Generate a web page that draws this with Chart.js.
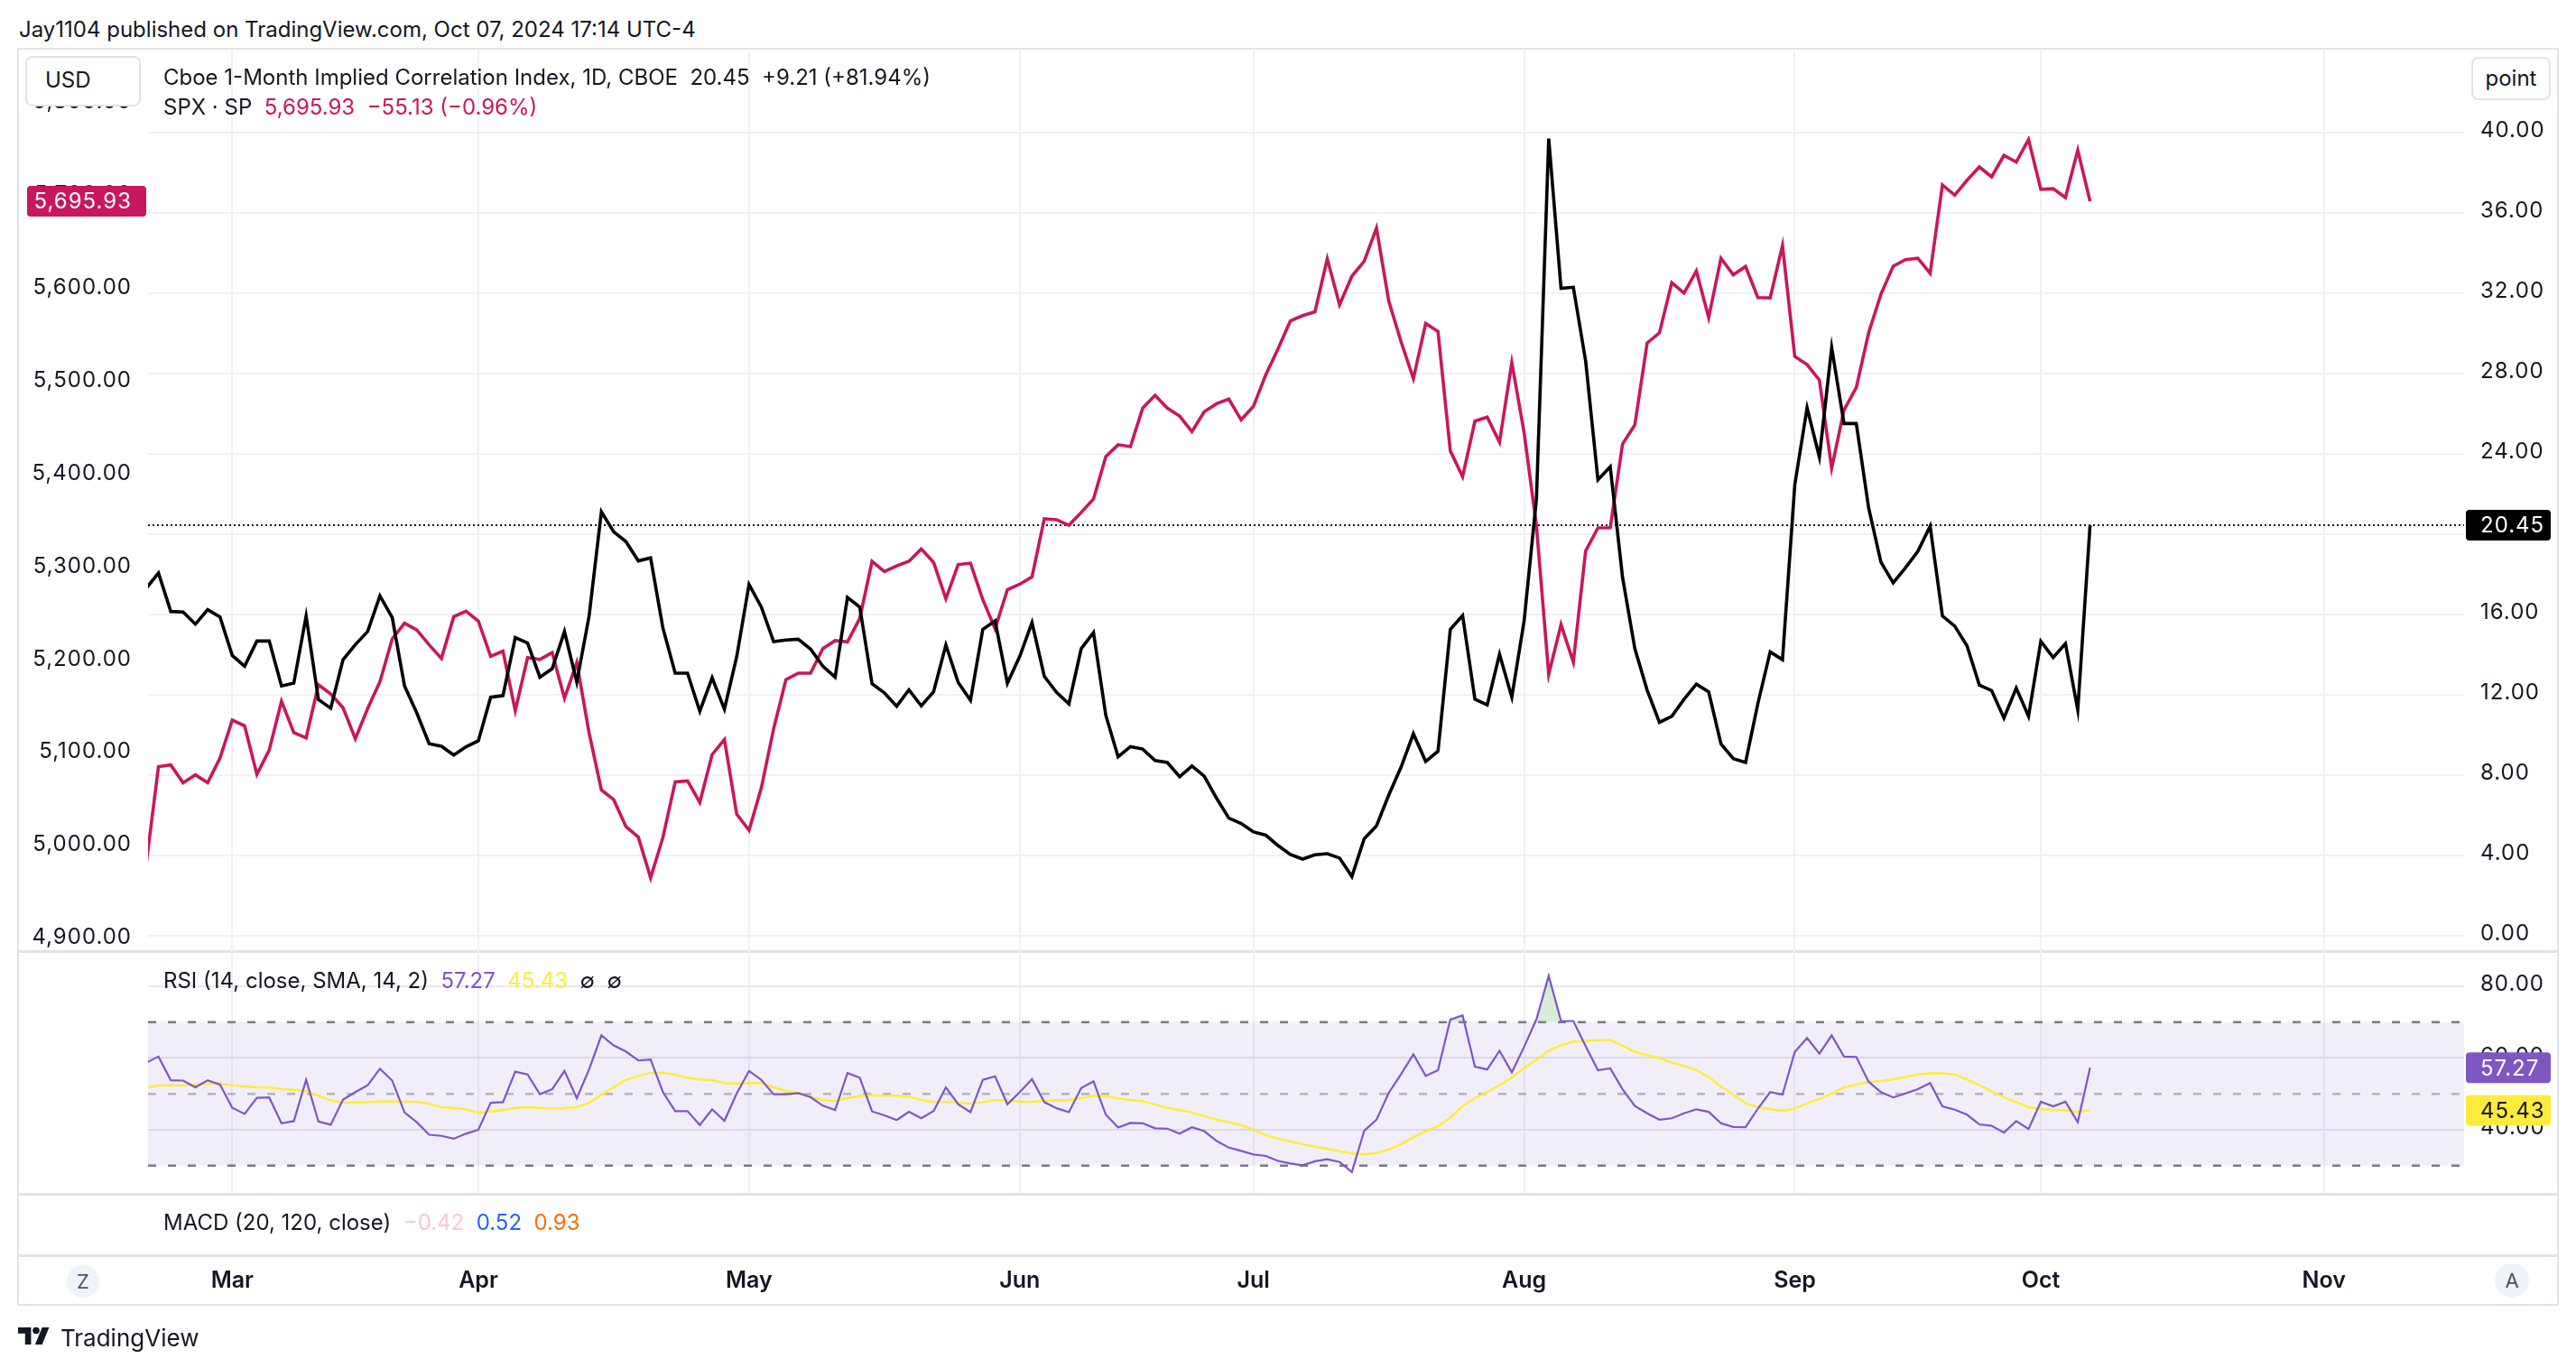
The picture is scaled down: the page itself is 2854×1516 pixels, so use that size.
<!DOCTYPE html>
<html>
<head>
<meta charset="utf-8">
<script src="https://cdn.jsdelivr.net/npm/chart.js"></script>
<style>
  body { margin: 0; width: 2854px; height: 1516px; background: #fff; position: relative; overflow: hidden;
         font-family: Inter, "Noto Sans", sans-serif; color: #131722; }
  .abs { position: absolute; white-space: nowrap; }
  canvas { position: absolute; z-index: 1; }
  .ov { z-index: 2; }
  .line { position: absolute; background: #e0e3eb; z-index: 0; }
  .txt { font-size: 24px; line-height: 30px; }
  .btn { border-radius: 50%; background: #f0f3fa; color: #50535e; text-align: center; font-size: 22px; }
</style>
</head>
<body>
<div class="abs txt" style="left:21px; top:18px;">Jay1104 published on TradingView.com, Oct 07, 2024 17:14 UTC-4</div>

<!-- frame -->
<div class="line" style="left:20px; top:53px; width:2814px; height:2px;"></div>
<div class="line" style="left:20px; top:1445px; width:2814px; height:2px;"></div>
<div class="line" style="left:19px; top:53px; width:2px; height:1394px;"></div>
<div class="line" style="left:2833px; top:53px; width:2px; height:1394px;"></div>
<div class="line" style="left:20px; top:1053px; width:2814px; height:3px;"></div>
<div class="line" style="left:20px; top:1322px; width:2814px; height:3px;"></div>
<div class="line" style="left:20px; top:1390px; width:2814px; height:3px;"></div>

<canvas id="main" width="2814" height="1001" style="left:20px; top:54px;"></canvas>
<canvas id="rsi" width="2814" height="269" style="left:20px; top:1054px;"></canvas>
<canvas id="time" width="2814" height="123" style="left:20px; top:1323px;"></canvas>

<div class="abs ov txt" style="left:28px; top:62px; width:124px; height:52px; border:2px solid #e0e3eb; border-radius:8px; background:#fff; line-height:50px;">
  <span style="margin-left:20px;">USD</span></div>
<div class="abs ov txt" style="left:2738px; top:63px; width:84px; height:44px; border:2px solid #e0e3eb; border-radius:8px; background:#fff; line-height:44px; text-align:center;">point</div>

<div class="abs ov txt" style="left:181px; top:71px;">Cboe 1-Month Implied Correlation Index, 1D, CBOE&nbsp; 20.45&nbsp; +9.21 (+81.94%)</div>
<div class="abs ov txt" style="left:181px; top:104px;">SPX · SP&nbsp; <span style="color:#c8175d;">5,695.93&nbsp; −55.13 (−0.96%)</span></div>

<div class="abs ov txt" style="left:181px; top:1072px;">RSI (14, close, SMA, 14, 2)&nbsp; <span style="color:#7e57c2;">57.27</span>&nbsp; <span style="color:#ffeb3b;">45.43</span>&nbsp; ∅&nbsp; ∅</div>
<div class="abs ov txt" style="left:181px; top:1340px;">MACD (20, 120, close)&nbsp; <span style="color:#f8c8d6;">−0.42</span>&nbsp; <span style="color:#2962ff;">0.52</span>&nbsp; <span style="color:#ff6d00;">0.93</span></div>

<div class="abs ov btn" style="left:74px; top:1402px; width:36px; height:36px; line-height:36px;">Z</div>
<div class="abs ov btn" style="left:2764px; top:1400px; width:38px; height:38px; line-height:38px;">A</div>

<svg class="abs ov" style="left:20px; top:1470px;" width="40" height="20" viewBox="0 0 36 18">
  <path d="M13 18H7V7H0V1h13v17z" fill="#131722"/>
  <circle cx="18" cy="4" r="3.4" fill="#131722"/>
  <path d="M24 18h-7l7-17h7l-7 17z" fill="#131722"/>
</svg>
<div class="abs ov" style="left:67px; top:1467px; font-size:26px; line-height:32px;">TradingView</div>

<script>
// trading-day index 0 = Feb 21 2024 ... 158 = Oct 7 2024
const monthIdx = [7, 27, 49, 71, 90, 112, 134, 154, 177];
const monthNames = ['Mar', 'Apr', 'May', 'Jun', 'Jul', 'Aug', 'Sep', 'Oct', 'Nov'];

const spx = [
  4981.80, 5087.03, 5088.80, 5069.53, 5078.18, 5069.76, 5096.27, 5137.08, 5130.95, 5078.65,
  5104.76, 5157.36, 5123.69, 5117.94, 5175.27, 5165.31, 5150.48, 5117.09, 5149.42, 5178.51,
  5224.62, 5241.53, 5234.18, 5218.19, 5203.58, 5248.49, 5254.35, 5243.77, 5205.81, 5211.49,
  5147.21, 5204.34, 5202.39, 5209.91, 5160.64, 5199.06, 5123.41, 5061.82, 5051.41, 5022.21,
  5011.12, 4967.23, 5010.60, 5070.55, 5071.63, 5048.42, 5099.96, 5116.17, 5035.69, 5018.39,
  5064.20, 5127.79, 5180.74, 5187.70, 5187.67, 5214.08, 5222.68, 5221.42, 5246.68, 5308.15,
  5297.10, 5303.27, 5308.13, 5321.41, 5307.01, 5267.84, 5304.72, 5306.04, 5266.95, 5235.48,
  5277.51, 5283.40, 5291.34, 5354.03, 5352.96, 5346.99, 5360.79, 5375.32, 5421.03, 5433.74,
  5431.60, 5473.23, 5487.03, 5473.17, 5464.62, 5447.87, 5469.30, 5477.90, 5482.87, 5460.48,
  5475.09, 5509.01, 5537.02, 5567.19, 5572.85, 5576.98, 5633.91, 5584.54, 5615.35, 5631.22,
  5667.20, 5588.27, 5544.59, 5505.00, 5564.41, 5555.74, 5427.13, 5399.22, 5459.10, 5463.54,
  5436.44, 5522.30, 5446.68, 5346.56, 5186.33, 5240.03, 5199.50, 5319.31, 5344.16, 5344.39,
  5434.43, 5455.21, 5543.22, 5554.25, 5608.25, 5597.12, 5620.85, 5570.64, 5634.61, 5616.84,
  5625.80, 5592.18, 5591.96, 5648.40, 5528.93, 5520.07, 5503.41, 5408.42, 5471.05, 5495.52,
  5554.13, 5595.76, 5626.02, 5633.09, 5634.58, 5618.26, 5713.64, 5702.55, 5718.57, 5732.93,
  5722.26, 5745.37, 5738.17, 5762.48, 5708.75, 5709.54, 5699.94, 5751.07, 5695.93
];

const cor = [
  17.3, 18.07, 16.15, 16.12, 15.52, 16.24, 15.88, 13.96, 13.42, 14.68,
  14.68, 12.44, 12.58, 15.92, 11.76, 11.33, 13.75, 14.5, 15.15, 16.93,
  15.85, 12.44, 11.09, 9.56, 9.44, 9.0, 9.41, 9.71, 11.88, 11.96,
  14.85, 14.58, 12.88, 13.3, 15.15, 12.63, 15.92, 21.12, 20.12, 19.63,
  18.67, 18.82, 15.33, 13.08, 13.08, 11.18, 12.85, 11.28, 13.9, 17.5,
  16.37, 14.65, 14.73, 14.77, 14.28, 13.42, 12.88, 16.85, 16.37, 12.55,
  12.1, 11.43, 12.25, 11.45, 12.15, 14.48, 12.62, 11.73, 15.26, 15.68,
  12.58, 13.91, 15.6, 12.92, 12.12, 11.55, 14.3, 15.1, 10.98, 8.91,
  9.42, 9.3, 8.73, 8.63, 7.92, 8.45, 7.95, 6.85, 5.86, 5.59,
  5.17, 5.01, 4.49, 4.05, 3.82, 4.03, 4.09, 3.87, 2.95, 4.83,
  5.47, 7.01, 8.4, 10.06, 8.68, 9.19, 15.26, 15.95, 11.78, 11.5,
  14.02, 11.89, 15.68, 21.75, 39.7, 32.25, 32.3, 28.63, 22.71, 23.36,
  17.85, 14.3, 12.23, 10.63, 10.93, 11.78, 12.53, 12.15, 9.55, 8.82,
  8.63, 11.57, 14.14, 13.75, 22.46, 26.29, 23.84, 29.29, 25.51, 25.51,
  21.32, 18.61, 17.58, 18.33, 19.14, 20.4, 15.93, 15.42, 14.44, 12.49,
  12.21, 10.84, 12.33, 10.93, 14.67, 13.86, 14.55, 11.24, 20.45
];

const rsi = [
  58.7, 60.4, 53.8, 53.7, 51.8, 53.8, 52.6, 46.1, 44.4, 48.9,
  49.0, 41.8, 42.4, 53.9, 42.3, 41.4, 48.4, 50.5, 52.4, 57.0,
  53.7, 44.8, 42.1, 38.6, 38.3, 37.5, 38.9, 40.0, 47.5, 47.7,
  56.2, 55.4, 49.9, 51.3, 56.4, 48.8, 56.8, 66.3, 63.5, 61.8,
  59.3, 59.6, 50.5, 45.2, 45.2, 41.3, 45.7, 42.5, 50.1, 56.4,
  53.9, 49.9, 49.9, 50.2, 49.1, 46.7, 45.5, 55.8, 54.5, 45.1,
  44.0, 42.7, 45.0, 43.2, 45.2, 51.8, 47.1, 44.9, 53.9, 54.9,
  47.1, 50.5, 54.1, 47.7, 46.0, 44.9, 51.6, 53.5, 44.2, 40.6,
  41.9, 41.8, 40.4, 40.3, 38.9, 40.7, 39.6, 36.9, 35.0, 34.1,
  33.1, 32.7, 31.3, 30.6, 30.1, 31.2, 31.8, 31.0, 28.2, 39.7,
  42.8, 50.3, 55.5, 61.0, 55.0, 56.6, 70.7, 71.9, 57.6, 56.8,
  62.0, 56.0, 63.1, 70.8, 82.9, 70.3, 70.3, 63.3, 56.6, 57.1,
  51.3, 46.6, 44.6, 42.8, 43.2, 44.6, 45.7, 45.0, 41.8, 40.8,
  40.7, 45.9, 50.5, 49.8, 61.7, 65.6, 61.2, 66.3, 60.4, 60.3,
  53.4, 50.5, 49.0, 50.1, 51.3, 53.0, 46.5, 45.6, 44.2, 41.5,
  41.1, 39.2, 42.4, 40.2, 47.8, 46.5, 47.8, 42.1, 57.27
];

const rsiSma = [
  51.8, 52.4, 52.4, 52.4, 52.6, 52.8, 52.9, 52.4, 52.1, 51.8,
  51.8, 51.4, 51.1, 50.8, 49.5, 48.2, 47.6, 47.6, 47.7, 47.9,
  47.9, 47.8, 47.7, 47.3, 46.3, 46.0, 45.7, 44.7, 45.1, 45.5,
  46.1, 46.3, 46.1, 45.9, 46.0, 46.3, 47.5, 49.7, 51.8, 53.9,
  55.0, 55.8, 55.9, 55.3, 54.5, 54.0, 53.8, 53.0, 52.8, 53.1,
  53.0, 51.8, 50.8, 50.2, 49.1, 48.3, 48.0, 48.8, 49.4, 49.6,
  49.5, 49.5, 49.2, 48.3, 47.7, 47.7, 47.6, 47.3, 47.7, 48.2,
  48.2, 47.8, 47.8, 48.1, 48.2, 48.3, 48.8, 49.5, 49.4, 48.7,
  48.3, 48.0, 47.0, 46.1, 45.5, 44.8, 43.8, 42.8, 42.1, 41.3,
  40.0, 38.5, 37.5, 36.8, 36.0, 35.3, 34.7, 34.0, 33.4, 33.2,
  33.5, 34.5, 36.0, 37.9, 39.6, 41.0, 43.4, 46.6, 48.8, 50.5,
  52.4, 54.5, 57.2, 59.5, 62.0, 63.5, 64.5, 64.8, 65.0, 65.0,
  63.5, 61.7, 60.8, 60.0, 58.7, 57.8, 56.6, 54.7, 52.0, 49.8,
  47.4, 46.3, 45.8, 45.3, 45.9, 47.4, 48.6, 50.1, 51.8, 52.6,
  53.3, 53.6, 54.1, 54.7, 55.4, 55.8, 55.7, 55.4, 54.0, 52.4,
  50.7, 49.0, 47.7, 46.3, 45.8, 45.5, 45.4, 45.0, 45.43
];

const spxTicks = [4900, 5000, 5100, 5200, 5300, 5400, 5500, 5600, 5700, 5800];
const corTicks = [0, 4, 8, 12, 16, 20, 24, 28, 32, 36, 40];
const rsiTicks = [40, 60, 80];
const rsiBands = [70, 50, 30];

const xMin = 0.15, xMax = 188.4;
const textColor = '#131722';
const gridColor = '#f0f1f4';
const axisFont = { family: 'Inter', size: 24 };
const pink = '#c8175d';

const fmt = v => v.toLocaleString('en-US', { minimumFractionDigits: 2, maximumFractionDigits: 2 });
const pts = arr => arr.map((v, i) => ({ x: i, y: v }));
const hline = v => [{ x: xMin, y: v }, { x: xMax, y: v }];
const last = arr => arr[arr.length - 1];
const fixTicks = list => s => { s.ticks = list.map(v => ({ value: v })); };

const xGrid = () => ({
  type: 'linear', min: xMin, max: xMax,
  afterBuildTicks: fixTicks(monthIdx),
  ticks: { display: false },
  grid: { color: gridColor, lineWidth: 2, drawTicks: false },
  border: { display: false },
  afterFit: s => { s.height = 0; s.paddingLeft = 0; s.paddingRight = 0; }
});

const spacing = { id: 'spacing', beforeDraw(chart) { chart.ctx.letterSpacing = '1px'; } };

// price badges drawn at the scale position of the last value
const badgePlugin = {
  id: 'badges',
  afterDraw(chart, args, opts) {
    const ctx = chart.ctx;
    (opts.items || []).forEach(b => {
      const sc = chart.scales[b.axis];
      const y = sc.getPixelForValue(b.value);
      ctx.save();
      ctx.fillStyle = b.bg;
      ctx.beginPath();
      if (b.side === 'left') ctx.roundRect(sc.right - 134, y - 17, 132, 34, 4);
      else ctx.roundRect(sc.left + 2, y - 17, 94, 34, 4);
      ctx.fill();
      ctx.fillStyle = b.fg;
      ctx.font = '24px Inter';
      ctx.textBaseline = 'middle';
      if (b.side === 'left') { ctx.textAlign = 'right'; ctx.fillText(fmt(b.value), sc.right - 18, y + 1); }
      else { ctx.textAlign = 'left'; ctx.fillText(fmt(b.value), sc.left + 18, y + 1); }
      ctx.restore();
    });
  }
};

new Chart(document.getElementById('main'), {
  type: 'line',
  data: {
    datasets: [
      { data: pts(cor), yAxisID: 'cor', borderColor: '#000', borderWidth: 3.6, pointRadius: 0, tension: 0 },
      { data: pts(spx), yAxisID: 'spx', borderColor: pink, borderWidth: 3.6, pointRadius: 0, tension: 0 },
      { data: hline(last(cor)), yAxisID: 'cor', borderColor: '#131722', borderWidth: 2, borderDash: [2, 3], pointRadius: 0 }
    ]
  },
  options: {
    responsive: false, animation: false, devicePixelRatio: 1,
    layout: { padding: 0, autoPadding: false },
    plugins: {
      legend: { display: false }, tooltip: { enabled: false },
      badges: { items: [
        { axis: 'spx', side: 'left', value: last(spx), bg: pink, fg: '#fff' },
        { axis: 'cor', side: 'right', value: last(cor), bg: '#000', fg: '#fff' }
      ] }
    },
    scales: {
      x: xGrid(),
      spx: {
        type: 'linear', axis: 'y', position: 'left', min: 4887.3, max: 5860.3,
        afterBuildTicks: fixTicks(spxTicks),
        ticks: { color: textColor, font: axisFont, padding: 18, labelOffset: -3, callback: v => fmt(v) },
        grid: { display: false, drawTicks: false }, border: { display: false },
        afterFit: s => { s.width = 144; s.paddingTop = 0; s.paddingBottom = 0; }
      },
      cor: {
        type: 'linear', axis: 'y', position: 'right', min: -0.81, max: 44.18,
        afterBuildTicks: fixTicks(corTicks),
        ticks: { color: textColor, font: axisFont, padding: 18, labelOffset: -2, callback: v => fmt(v) },
        grid: { color: gridColor, lineWidth: 2, drawTicks: false }, border: { display: false },
        afterFit: s => { s.width = 104; s.paddingTop = 0; s.paddingBottom = 0; }
      }
    }
  },
  plugins: [spacing, badgePlugin]
});

const bandLine = (v, color, fill) => ({
  data: hline(v), yAxisID: 'rsiY', borderColor: color, borderWidth: 2.5, borderDash: [9, 13],
  pointRadius: 0, fill: fill, backgroundColor: 'rgba(126, 87, 194, 0.1)'
});

new Chart(document.getElementById('rsi'), {
  type: 'line',
  data: {
    datasets: [
      { data: pts(rsi), yAxisID: 'rsiY', borderColor: '#7e57c2', borderWidth: 2.2, pointRadius: 0, tension: 0,
        fill: { target: { value: rsiBands[0] }, above: 'rgba(76, 175, 80, 0.22)', below: 'rgba(0,0,0,0)' } },
      { data: pts(rsiSma), yAxisID: 'rsiY', borderColor: '#ffeb3b', borderWidth: 2.5, pointRadius: 0, tension: 0 },
      bandLine(rsiBands[0], '#787b86', 4),
      bandLine(rsiBands[1], 'rgba(120, 123, 134, 0.5)', false),
      bandLine(rsiBands[2], '#787b86', false)
    ]
  },
  options: {
    responsive: false, animation: false, devicePixelRatio: 1,
    layout: { padding: { left: 144, right: 0, top: 0, bottom: 0 }, autoPadding: false },
    plugins: {
      legend: { display: false }, tooltip: { enabled: false },
      badges: { items: [
        { axis: 'rsiY', side: 'right', value: last(rsi), bg: '#7e57c2', fg: '#fff' },
        { axis: 'rsiY', side: 'right', value: last(rsiSma), bg: '#ffeb3b', fg: '#131722' }
      ] }
    },
    scales: {
      x: xGrid(),
      rsiY: {
        type: 'linear', axis: 'y', position: 'right', min: 22.13, max: 89.8,
        afterBuildTicks: fixTicks(rsiTicks),
        ticks: { color: textColor, font: axisFont, padding: 18, labelOffset: -2, callback: v => fmt(v) },
        grid: { color: '#e9e7f0', lineWidth: 2, drawTicks: false }, border: { display: false },
        afterFit: s => { s.width = 104; s.paddingTop = 0; s.paddingBottom = 0; }
      }
    }
  },
  plugins: [spacing, badgePlugin]
});

new Chart(document.getElementById('time'), {
  type: 'line',
  data: { datasets: [] },
  options: {
    responsive: false, animation: false, devicePixelRatio: 1,
    layout: { padding: { left: 144, right: 104, top: 0, bottom: 0 }, autoPadding: false },
    plugins: { legend: { display: false }, tooltip: { enabled: false } },
    scales: {
      x: {
        type: 'linear', min: xMin, max: xMax, position: 'bottom',
        afterBuildTicks: fixTicks(monthIdx),
        ticks: { color: textColor, font: { family: 'Inter', size: 25, weight: '600' }, padding: 13, autoSkip: false, maxRotation: 0,
                 callback: v => monthNames[monthIdx.indexOf(v)] },
        grid: { display: false, drawTicks: false }, border: { display: false },
        afterFit: s => { s.height = 55; s.paddingLeft = 0; s.paddingRight = 0; }
      },
      y: { display: false }
    }
  }
});
</script>
</body>
</html>
